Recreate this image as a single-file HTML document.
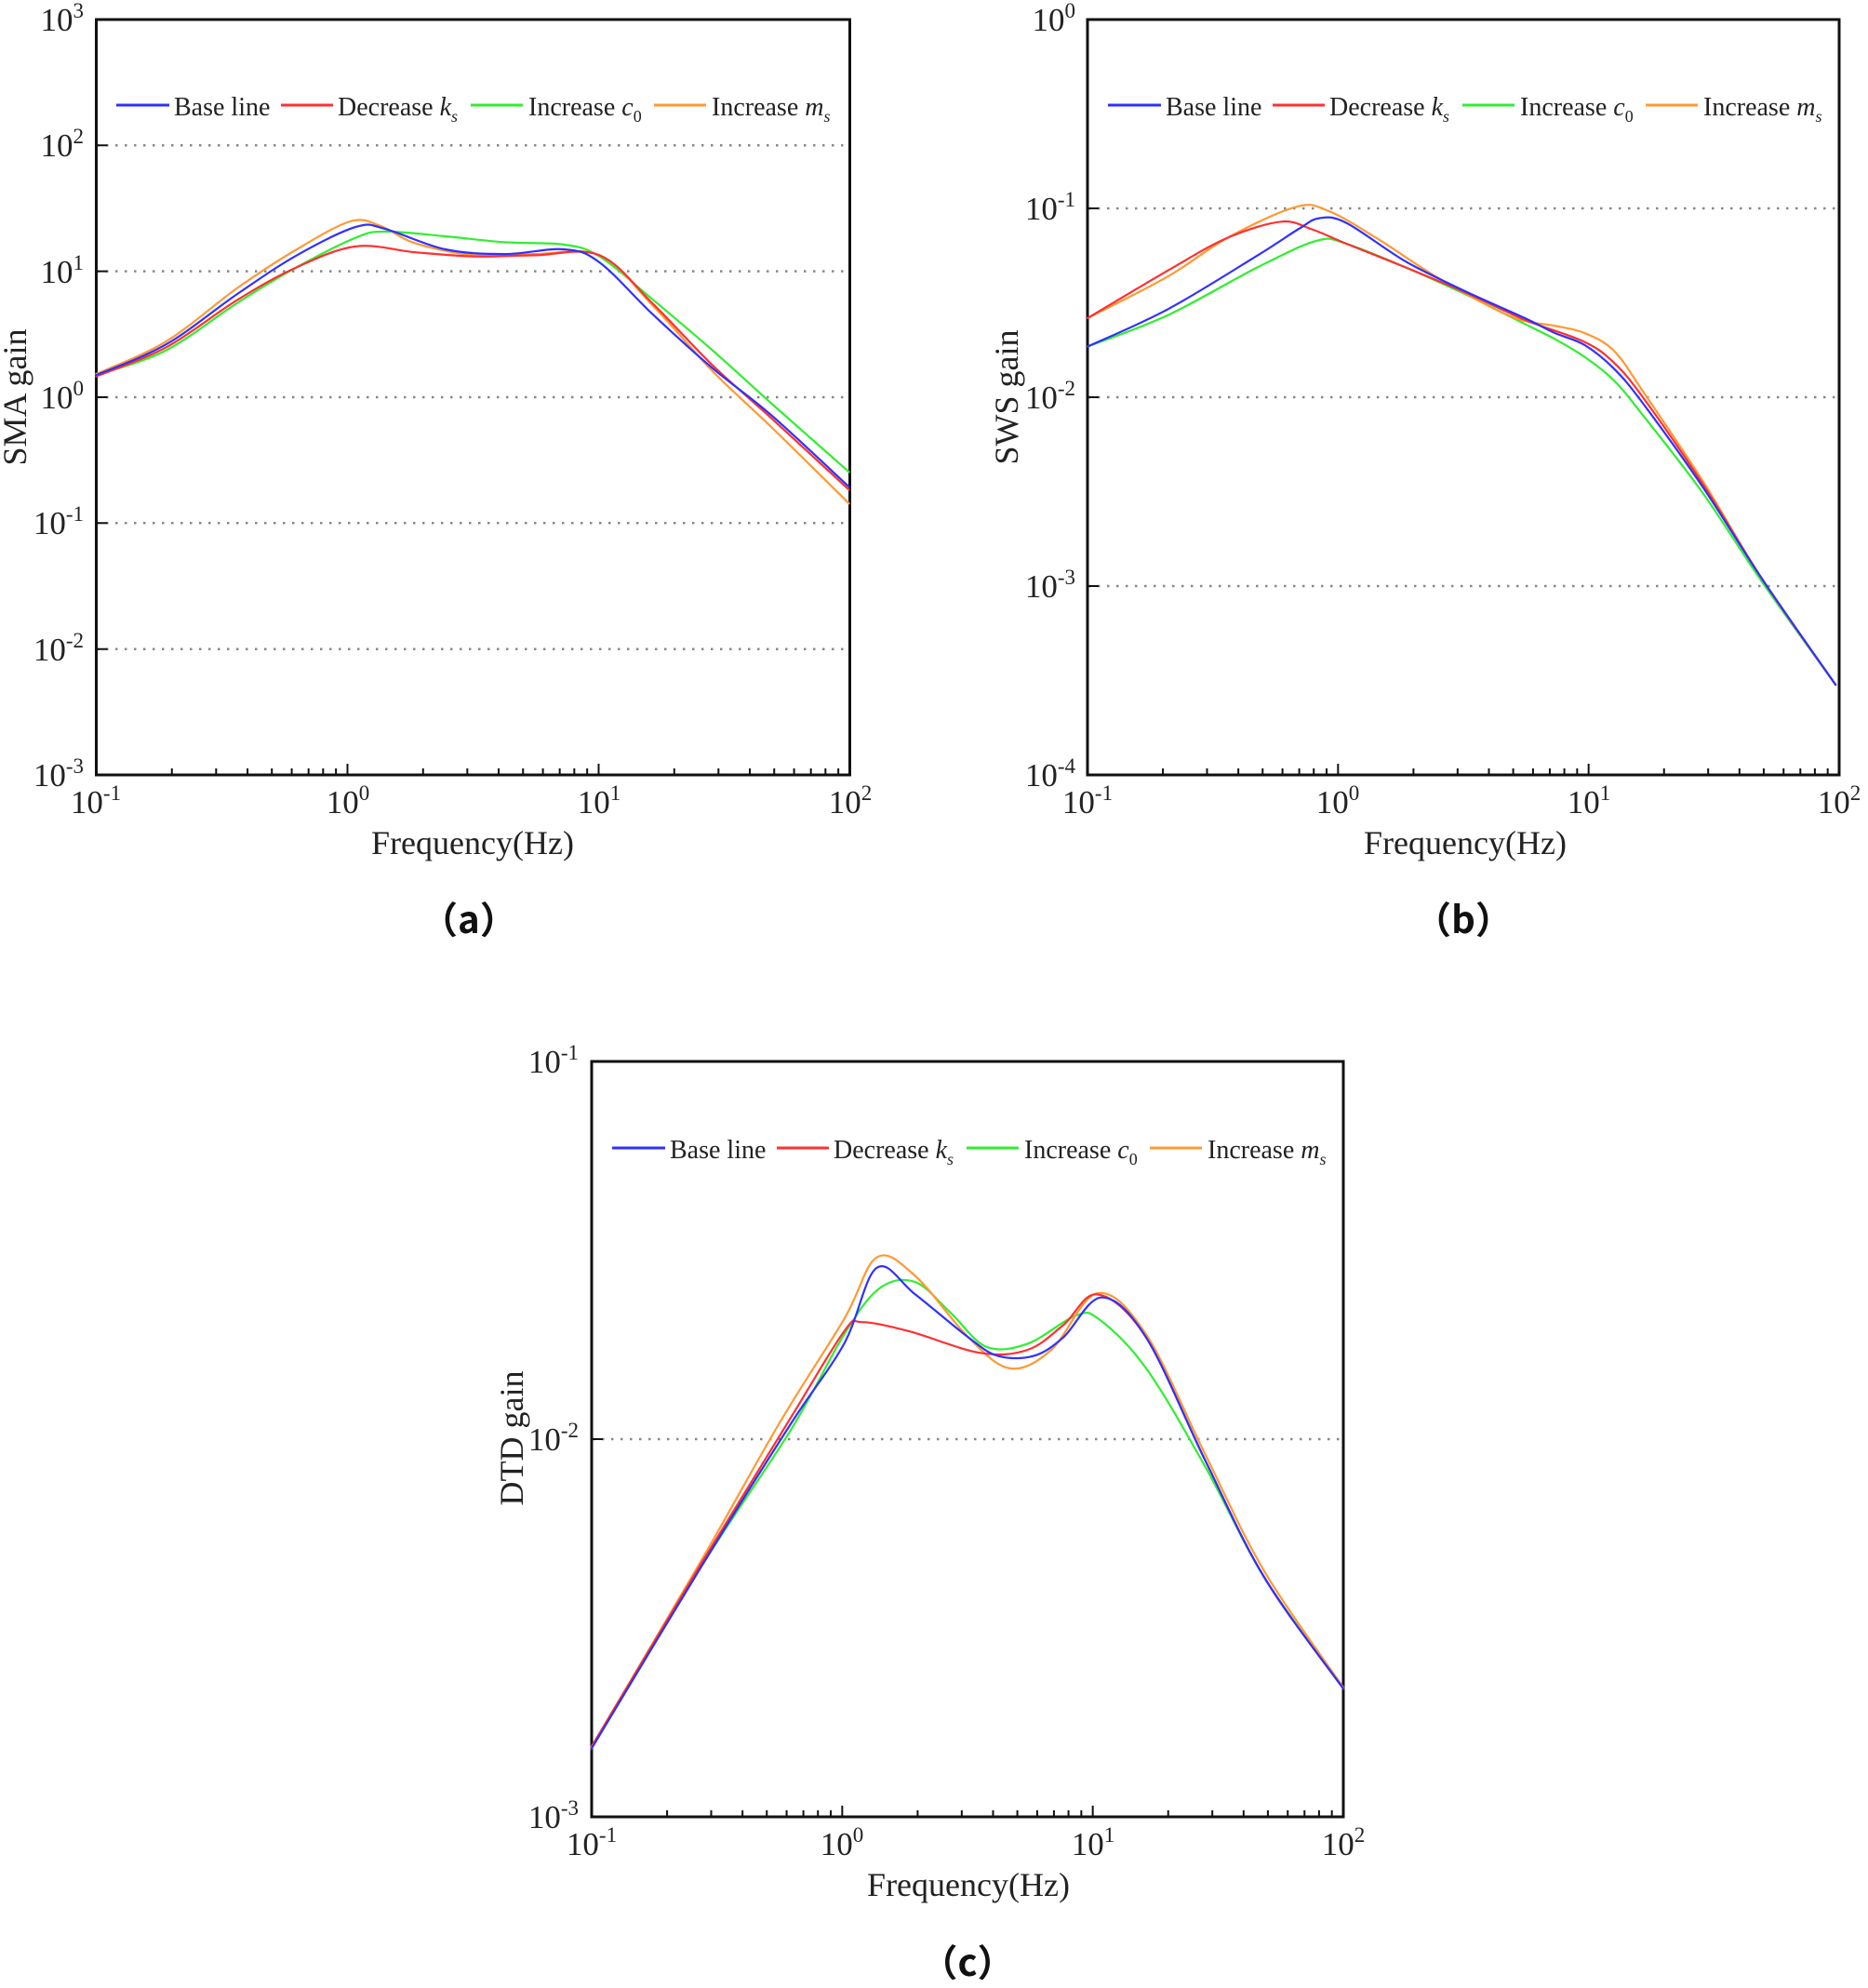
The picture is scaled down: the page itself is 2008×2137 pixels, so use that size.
<!DOCTYPE html>
<html><head><meta charset="utf-8"><style>
html,body{margin:0;padding:0;background:#fff;}
svg{display:block;}
text{font-family:"Liberation Serif",serif;fill:#222;}
.t{font-size:35px;}
.sup{font-size:23px;}
.ax{font-size:36px;}
.lg{font-size:28px;}
.pl{font-family:"Noto Sans CJK SC","Liberation Sans",sans-serif;font-weight:bold;font-size:40px;fill:#111;}
.grid{stroke:#888;stroke-width:2.5;stroke-dasharray:2.5 7.5;}
.box{fill:none;stroke:#111;stroke-width:3;}
.c{fill:none;stroke-width:2.2;stroke-linejoin:round;stroke-linecap:round;}
</style></head><body>
<svg id="s" width="2008" height="2137" viewBox="0 0 2008 2137" xmlns="http://www.w3.org/2000/svg">
<g>
<line class="grid" x1="104" x2="912" y1="156.3" y2="156.3"/>
<line class="grid" x1="104" x2="912" y1="291.6" y2="291.6"/>
<line class="grid" x1="104" x2="912" y1="427" y2="427"/>
<line class="grid" x1="104" x2="912" y1="562.3" y2="562.3"/>
<line class="grid" x1="104" x2="912" y1="697.7" y2="697.7"/>
<rect class="box" x="103.5" y="21" width="810" height="812"/>
<text class="t" x="90" y="33" text-anchor="end">10<tspan class="sup" dy="-14">3</tspan></text>
<text class="t" x="90" y="168" text-anchor="end">10<tspan class="sup" dy="-14">2</tspan></text>
<text class="t" x="90" y="304" text-anchor="end">10<tspan class="sup" dy="-14">1</tspan></text>
<text class="t" x="90" y="439" text-anchor="end">10<tspan class="sup" dy="-14">0</tspan></text>
<text class="t" x="90" y="574" text-anchor="end">10<tspan class="sup" dy="-14">-1</tspan></text>
<text class="t" x="90" y="710" text-anchor="end">10<tspan class="sup" dy="-14">-2</tspan></text>
<text class="t" x="90" y="845" text-anchor="end">10<tspan class="sup" dy="-14">-3</tspan></text>
<text class="t" x="103" y="874" text-anchor="middle">10<tspan class="sup" dy="-14">-1</tspan></text>
<text class="t" x="374" y="874" text-anchor="middle">10<tspan class="sup" dy="-14">0</tspan></text>
<text class="t" x="644" y="874" text-anchor="middle">10<tspan class="sup" dy="-14">1</tspan></text>
<text class="t" x="914" y="874" text-anchor="middle">10<tspan class="sup" dy="-14">2</tspan></text>
<text class="ax" x="508" y="918" text-anchor="middle">Frequency(Hz)</text>
<text class="ax" transform="translate(28,427) rotate(-90)" text-anchor="middle">SMA gain</text>
<text class="pl" x="504" y="1003" text-anchor="middle">（a）</text>
</g>
<g>
<line class="grid" x1="1170" x2="1976" y1="224" y2="224"/>
<line class="grid" x1="1170" x2="1976" y1="427" y2="427"/>
<line class="grid" x1="1170" x2="1976" y1="630" y2="630"/>
<rect class="box" x="1169" y="21" width="808" height="812"/>
<text class="t" x="1156" y="33" text-anchor="end">10<tspan class="sup" dy="-14">0</tspan></text>
<text class="t" x="1156" y="236" text-anchor="end">10<tspan class="sup" dy="-14">-1</tspan></text>
<text class="t" x="1156" y="439" text-anchor="end">10<tspan class="sup" dy="-14">-2</tspan></text>
<text class="t" x="1156" y="642" text-anchor="end">10<tspan class="sup" dy="-14">-3</tspan></text>
<text class="t" x="1156" y="845" text-anchor="end">10<tspan class="sup" dy="-14">-4</tspan></text>
<text class="t" x="1169" y="874" text-anchor="middle">10<tspan class="sup" dy="-14">-1</tspan></text>
<text class="t" x="1438" y="874" text-anchor="middle">10<tspan class="sup" dy="-14">0</tspan></text>
<text class="t" x="1708" y="874" text-anchor="middle">10<tspan class="sup" dy="-14">1</tspan></text>
<text class="t" x="1977" y="874" text-anchor="middle">10<tspan class="sup" dy="-14">2</tspan></text>
<text class="ax" x="1575" y="918" text-anchor="middle">Frequency(Hz)</text>
<text class="ax" transform="translate(1094,427) rotate(-90)" text-anchor="middle">SWS gain</text>
<text class="pl" x="1573" y="1003" text-anchor="middle">（b）</text>
</g>
<g>
<line class="grid" x1="637" x2="1443" y1="1547" y2="1547"/>
<rect class="box" x="636" y="1141" width="808" height="812"/>
<text class="t" x="622" y="1153" text-anchor="end">10<tspan class="sup" dy="-14">-1</tspan></text>
<text class="t" x="622" y="1559" text-anchor="end">10<tspan class="sup" dy="-14">-2</tspan></text>
<text class="t" x="622" y="1965" text-anchor="end">10<tspan class="sup" dy="-14">-3</tspan></text>
<text class="t" x="636" y="1994" text-anchor="middle">10<tspan class="sup" dy="-14">-1</tspan></text>
<text class="t" x="905" y="1994" text-anchor="middle">10<tspan class="sup" dy="-14">0</tspan></text>
<text class="t" x="1175" y="1994" text-anchor="middle">10<tspan class="sup" dy="-14">1</tspan></text>
<text class="t" x="1444" y="1994" text-anchor="middle">10<tspan class="sup" dy="-14">2</tspan></text>
<text class="ax" x="1041" y="2038" text-anchor="middle">Frequency(Hz)</text>
<text class="ax" transform="translate(562,1546) rotate(-90)" text-anchor="middle">DTD gain</text>
<text class="pl" x="1040" y="2124" text-anchor="middle">（c）</text>
</g>
<g>
<line x1="125" x2="182" y1="113" y2="113" stroke="#3030ff" stroke-width="3"/>
<text class="lg" x="187" y="124">Base line</text>
<line x1="302" x2="358" y1="113" y2="113" stroke="#ff3030" stroke-width="3"/>
<text class="lg" x="363" y="124">Decrease <tspan font-style="italic">k</tspan><tspan font-style="italic" font-size="18" dy="7">s</tspan></text>
<line x1="506" x2="562" y1="113" y2="113" stroke="#30ee30" stroke-width="3"/>
<text class="lg" x="568" y="124">Increase <tspan font-style="italic">c</tspan><tspan font-size="18" dy="7">0</tspan></text>
<line x1="703" x2="759" y1="113" y2="113" stroke="#ff9933" stroke-width="3"/>
<text class="lg" x="765" y="124">Increase <tspan font-style="italic">m</tspan><tspan font-style="italic" font-size="18" dy="7">s</tspan></text>
</g>
<g transform="translate(1066,0)">
<line x1="125" x2="182" y1="113" y2="113" stroke="#3030ff" stroke-width="3"/>
<text class="lg" x="187" y="124">Base line</text>
<line x1="302" x2="358" y1="113" y2="113" stroke="#ff3030" stroke-width="3"/>
<text class="lg" x="363" y="124">Decrease <tspan font-style="italic">k</tspan><tspan font-style="italic" font-size="18" dy="7">s</tspan></text>
<line x1="506" x2="562" y1="113" y2="113" stroke="#30ee30" stroke-width="3"/>
<text class="lg" x="568" y="124">Increase <tspan font-style="italic">c</tspan><tspan font-size="18" dy="7">0</tspan></text>
<line x1="703" x2="759" y1="113" y2="113" stroke="#ff9933" stroke-width="3"/>
<text class="lg" x="765" y="124">Increase <tspan font-style="italic">m</tspan><tspan font-style="italic" font-size="18" dy="7">s</tspan></text>
</g>
<g transform="translate(533,1121)">
<line x1="125" x2="182" y1="113" y2="113" stroke="#3030ff" stroke-width="3"/>
<text class="lg" x="187" y="124">Base line</text>
<line x1="302" x2="358" y1="113" y2="113" stroke="#ff3030" stroke-width="3"/>
<text class="lg" x="363" y="124">Decrease <tspan font-style="italic">k</tspan><tspan font-style="italic" font-size="18" dy="7">s</tspan></text>
<line x1="506" x2="562" y1="113" y2="113" stroke="#30ee30" stroke-width="3"/>
<text class="lg" x="568" y="124">Increase <tspan font-style="italic">c</tspan><tspan font-size="18" dy="7">0</tspan></text>
<line x1="703" x2="759" y1="113" y2="113" stroke="#ff9933" stroke-width="3"/>
<text class="lg" x="765" y="124">Increase <tspan font-style="italic">m</tspan><tspan font-style="italic" font-size="18" dy="7">s</tspan></text>
</g>
<g id="dyn"></g>
</svg>
<script>
(function(){
var NS="http://www.w3.org/2000/svg",g=document.getElementById("dyn");
function el(n,a){var e=document.createElementNS(NS,n);for(var k in a)e.setAttribute(k,a[k]);g.appendChild(e);return e;}
var mins=[2,3,4,5,6,7,8,9].map(function(k){return Math.log10(k);});
function ticks(x0,x1,yb,yd){
 var w=(x1-x0)/3,d="";
 for(var i=0;i<3;i++){var b=x0+i*w;
  if(i>0)d+="M"+b+" "+yb+"v-12";
  mins.forEach(function(m){d+="M"+(b+m*w)+" "+yb+"v-7";});}
 yd.forEach(function(y){d+="M"+x0+" "+y+"h12";});
 el("path",{d:d,stroke:"#111","stroke-width":2,fill:"none"});
}
ticks(103.5,913.5,833,[156.3,291.6,427,562.3,697.7]);
ticks(1169,1977,833,[224,427,630]);
ticks(636,1444,1953,[1547]);
function path(pts,ox,oy,fx,fy){
 var P=pts.map(function(p){return [ox+p[0]/fx,oy+p[1]/fy];});
 var d="M"+P[0][0].toFixed(1)+" "+P[0][1].toFixed(1);
 for(var i=0;i<P.length-1;i++){
  var p0=P[i-1]||P[i],p1=P[i],p2=P[i+1],p3=P[i+2]||P[i+1];
  var c1=[p1[0]+(p2[0]-p0[0])/6,p1[1]+(p2[1]-p0[1])/6];
  var c2=[p2[0]-(p3[0]-p1[0])/6,p2[1]-(p3[1]-p1[1])/6];
  d+="C"+c1[0].toFixed(1)+" "+c1[1].toFixed(1)+" "+c2[0].toFixed(1)+" "+c2[1].toFixed(1)+" "+p2[0].toFixed(1)+" "+p2[1].toFixed(1);
 }
 return d;
}
var col={b:"#3030ff",r:"#ff3030",g:"#30ee30",o:"#ff9933"};
function draw(set,ox,oy,fx,fy){["g","o","r","b"].forEach(function(k){el("path",{d:path(set[k],ox,oy,fx,fy),stroke:col[k],"class":"c"});});}
draw({
b:[[162,632],[280,580],[400,495],[500,430],[600,382],[650,386],[750,420],[850,428],[950,420],[1010,442],[1100,530],[1200,620],[1300,700],[1430,820]],
r:[[162,634],[280,585],[400,505],[500,450],[600,415],[700,425],[800,432],[900,430],[1010,430],[1100,512],[1200,615],[1300,705],[1430,825]],
g:[[162,632],[280,590],[400,510],[500,450],[600,400],[650,390],[750,398],[850,408],[950,412],[1010,432],[1100,505],[1200,590],[1300,680],[1430,795]],
o:[[162,630],[280,575],[400,485],[500,420],[590,373],[640,380],[700,410],[800,430],[900,428],[1010,430],[1100,515],[1200,625],[1300,720],[1430,848]]
},0,0,1.567,1.567);
draw({
b:[[265,583],[400,520],[550,430],[620,385],[655,367],[700,375],[800,440],[900,490],[1000,535],[1050,560],[1100,580],[1150,620],[1200,680],[1300,820],[1400,975],[1523,1152]],
r:[[265,535],[400,455],[500,400],[590,373],[640,385],[700,410],[800,450],[900,492],[1000,538],[1100,575],[1150,610],[1200,670],[1300,815],[1400,975],[1523,1152]],
g:[[265,583],[400,530],[550,450],[650,405],[700,410],[800,450],[900,495],[1000,545],[1050,570],[1100,600],[1150,640],[1200,700],[1300,830],[1400,980],[1523,1152]],
o:[[265,535],[400,465],[500,400],[615,348],[670,355],[750,400],[850,465],[950,520],[1000,540],[1050,548],[1100,560],[1150,590],[1200,660],[1300,810],[1400,975],[1523,1152]]
},1000,0,1.565,1.565);
draw({
b:[[213,1178],[400,880],[550,650],[640,520],[695,397],[760,440],[850,510],[900,540],[960,540],[1010,510],[1075,445],[1150,510],[1250,710],[1350,900],[1483,1080]],
r:[[213,1175],[400,875],[550,640],[640,500],[670,485],[750,500],[870,535],[950,530],[1010,490],[1068,440],[1150,510],[1250,710],[1350,900],[1483,1080]],
g:[[213,1178],[400,880],[550,660],[640,505],[700,430],[760,420],[820,470],[880,525],[950,520],[1030,475],[1070,480],[1150,560],[1250,720],[1350,900],[1483,1080]],
o:[[213,1175],[400,870],[530,650],[640,480],[695,380],[760,410],[850,510],[920,560],[990,530],[1068,438],[1150,505],[1250,700],[1350,890],[1483,1078]]
},500,1100,1.571,1.51);
})();
</script>
</body></html>
